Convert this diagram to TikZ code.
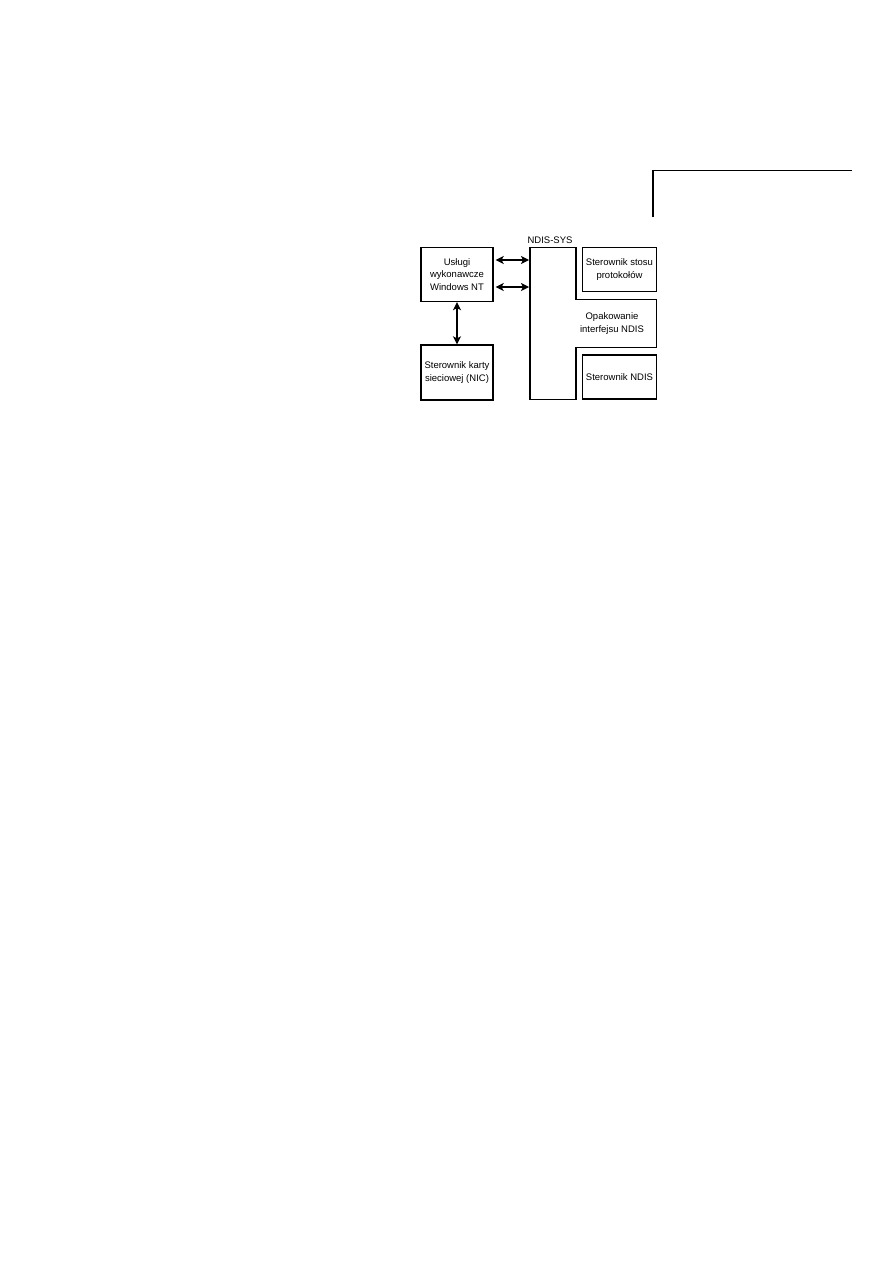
\documentclass[tikz,border=0pt]{standalone}
\usepackage{fontspec}
\setmainfont{Liberation Sans}
\usetikzlibrary{arrows.meta}
\begin{document}
\begin{tikzpicture}[x=1pt,y=-1pt,
  box/.style={draw,line width=1.4pt,minimum width=72pt,align=center,font=\fontsize{9.5}{12.5}\selectfont,inner sep=0pt},
  lbl/.style={align=center,font=\fontsize{9.5}{12.5}\selectfont,inner sep=0pt},
  dbl/.style={{Stealth[length=8pt,width=8pt,inset=2pt]}-{Stealth[length=8pt,width=8pt,inset=2pt]},line width=1.2pt}]
\useasboundingbox (0,0) rectangle (893,1263);
% top-right bracket
\draw[line width=2.4pt] (653,217) -- (653,170.5);
\draw[line width=1.1pt] (652,170.5) -- (852,170.5);
% boxes
\node[box,minimum width=72pt,minimum height=54pt] (a) at (457,274.5) {Usługi\\wykonawcze\\Windows NT};
\node[box,minimum width=72pt,minimum height=55pt] (b) at (457,372.5) {Sterownik karty\\sieciowej (NIC)};
\node[box,minimum width=74pt,minimum height=44pt] (c) at (619.5,269.5) {Sterownik stosu\\protokołów};
\node[box,minimum width=74pt,minimum height=44pt] (d) at (619.5,377) {Sterownik NDIS};
% NDIS-SYS shape
\draw[line width=1.4pt] (530,247.5) -- (576,247.5) -- (576,299.5) -- (656.5,299.5) -- (656.5,347.5) -- (576,347.5) -- (576,399.5) -- (530,399.5) -- cycle;
\coordinate (s1) at (529,260);
\coordinate (s2) at (529,287);
\node[lbl] (t) at (550,240) {NDIS-SYS};
\node[lbl] (o) at (612,323.5) {Opakowanie\\interfejsu NDIS};
% arrows
\draw[dbl] (a.east |- s1) ++(2,0) coordinate (a1) (a1) -- (s1);
\draw[dbl] (a.east |- s2) ++(2,0) coordinate (a2) (a2) -- (s2);
\draw[dbl] (a.south) -- (b.north);
\end{tikzpicture}
\end{document}
